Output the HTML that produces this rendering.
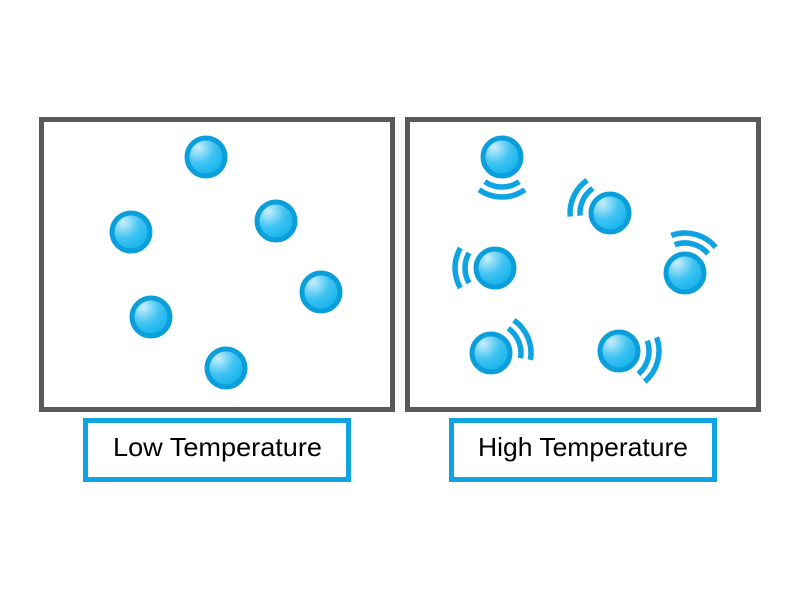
<!DOCTYPE html>
<html><head><meta charset="utf-8"><style>html,body{margin:0;padding:0;background:#fff}svg{display:block}</style></head>
<body>
<svg width="800" height="600" viewBox="0 0 800 600" xmlns="http://www.w3.org/2000/svg">
<defs>
<radialGradient id="g" cx="0.3" cy="0.25" r="0.85">
<stop offset="0" stop-color="#c8eefc"/>
<stop offset="0.5" stop-color="#3fc3f2"/>
<stop offset="1" stop-color="#0cb0ea"/>
</radialGradient>
<symbol id="b" overflow="visible"><circle cx="0" cy="0" r="19" fill="url(#g)" stroke="#0a9edb" stroke-width="5"/></symbol>
</defs>
<rect x="41.5" y="119.5" width="351" height="290" fill="none" stroke="#595959" stroke-width="5"/>
<rect x="407.5" y="119.5" width="351" height="290" fill="none" stroke="#595959" stroke-width="5"/>
<rect x="85.5" y="420.5" width="263" height="59" fill="none" stroke="#0ea3e2" stroke-width="5"/>
<rect x="451.5" y="420.5" width="263" height="59" fill="none" stroke="#0ea3e2" stroke-width="5"/>
<g font-family="Liberation Sans, sans-serif" font-size="26" fill="#000">
<text x="113" y="456" textLength="209" lengthAdjust="spacingAndGlyphs">Low Temperature</text>
<text x="478" y="456" textLength="210" lengthAdjust="spacingAndGlyphs">High Temperature</text>
</g>
<g>
<use href="#b" x="206" y="157"/>
<use href="#b" x="131" y="232"/>
<use href="#b" x="276" y="221"/>
<use href="#b" x="321" y="292"/>
<use href="#b" x="151" y="317"/>
<use href="#b" x="226" y="368"/>
<use href="#b" x="502" y="157"/>
<use href="#b" x="610" y="213"/>
<use href="#b" x="495" y="268"/>
<use href="#b" x="685" y="273"/>
<use href="#b" x="491" y="353"/>
<use href="#b" x="619" y="351"/>
</g>
<g fill="none" stroke="#0ea3e2" stroke-width="5.5">
<path d="M519.2,181.6 A30,30 0 0 1 484.8,181.6"/>
<path d="M524.9,189.8 A40,40 0 0 1 479.1,189.8"/>
<path d="M580.1,215.6 A30,30 0 0 1 592.8,188.4"/>
<path d="M570.2,216.5 A40,40 0 0 1 587.1,180.2"/>
<path d="M469,283 A30,30 0 0 1 469,253"/>
<path d="M460.4,288 A40,40 0 0 1 460.4,248"/>
<path d="M674.7,244.8 A30,30 0 0 1 708,253.7"/>
<path d="M671.3,235.4 A40,40 0 0 1 715.6,247.3"/>
<path d="M508.2,328.4 A30,30 0 0 1 520.5,358.2"/>
<path d="M513.9,320.2 A40,40 0 0 1 530.4,359.9"/>
<path d="M647.2,340.7 A30,30 0 0 1 638.3,374"/>
<path d="M656.6,337.3 A40,40 0 0 1 644.7,381.6"/>
</g>
</svg>
</body></html>
